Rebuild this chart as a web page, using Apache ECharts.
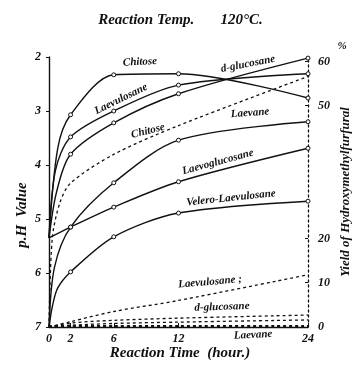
<!DOCTYPE html>
<html>
<head>
<meta charset="utf-8">
<script src="https://cdn.jsdelivr.net/npm/echarts@6/dist/echarts.min.js"></script>
<style>
  html, body { margin: 0; padding: 0; background: #fff; }
  #chart { width: 361px; height: 365px; }
</style>
</head>
<body>
<div id="chart"></div>
<script>
// tick labels
const hourTicks = [0, 2, 6, 12, 24];
const phTicks = [2, 3, 4, 5, 6, 7];
const yieldTicks = [0, 10, 20, 50, 60];
const markedHours = [2, 6, 12, 24];

// pH curves (solid)
const chitoseT = [0, 0.8, 2, 6, 12, 24];
const chitosePH = [5.35, 3.7, 3.07, 2.33, 2.31, 2.76];
const laevulosaneT = [0, 0.6, 2, 6, 12, 24];
const laevulosanePH = [5.35, 4.1, 3.48, 3.0, 2.52, 2.31];
const glucosaneT = [0, 0.7, 2, 6, 12, 24];
const glucosanePH = [5.35, 4.5, 3.8, 3.22, 2.68, 2.02];
const laevaneT = [0, 0.5, 2, 6, 12, 24];
const laevanePH = [7, 5.9, 5.15, 4.33, 3.54, 3.2];
const laevoglucosaneT = [0, 2, 6, 12, 24];
const laevoglucosanePH = [5.35, 5.15, 4.78, 4.31, 3.69];
const veleroT = [0, 0.3, 0.8, 2, 6, 12, 24];
const veleroPH = [7, 6.63, 6.28, 5.98, 5.33, 4.89, 4.67];

// yield of hydroxymethylfurfural (dotted)
const chitoseYT = [0, 0.3, 1, 2, 6, 12, 24];
const chitoseY = [0, 20, 28, 32.5, 39, 45.5, 56.6];
const yieldT = [0, 2, 6, 12, 24];
const laevulosaneY = [0, 1.2, 3.5, 6, 11.8];
const glucosaneY = [0, 0.9, 1.5, 2, 2.7];
const otherY = [0, 0.4, 0.8, 1.1, 1.6];
const laevaneY = [0.2, 0.2, 0.2, 0.2, 0.2];

const zip = (t, v) => t.map((x, i) => [x, v[i]]);
const hand = '"Liberation Serif", serif';

function phLine(name, t, v) {
    return {
        name: name, type: "line", yAxisIndex: 0,
        data: zip(t, v),
        smooth: 0.3,
        symbol: (val) => (markedHours.includes(val[0]) ? "circle" : "none"),
        symbolSize: 4,
        itemStyle: { color: "#fff", borderColor: "#111", borderWidth: 1 },
        lineStyle: { color: "#111", width: 1.4 },
        z: 3,
    };
}

function yieldLine(name, t, v, width) {
    return {
        name: name, type: "line", yAxisIndex: 1,
        data: zip(t, v),
        smooth: 0.3,
        symbol: "none",
        lineStyle: { color: "#111", width: width || 1.3, type: [3, 3] },
    };
}

const chart = echarts.init(document.getElementById("chart"));

const labels = [
    { t: "Chitose", x: 140, y: 62, r: 3 },
    { t: "Laevulosane", x: 121, y: 99, r: 26 },
    { t: "d-glucosane", x: 248, y: 64, r: 11 },
    { t: "Chitose", x: 148, y: 131, r: 14 },
    { t: "Laevane", x: 250, y: 113, r: 4 },
    { t: "Laevoglucosane", x: 218, y: 162, r: 15 },
    { t: "Velero-Laevulosane", x: 231, y: 198, r: 6 },
    { t: "Laevulosane ;", x: 210, y: 282, r: 5 },
    { t: "d-glucosane", x: 222, y: 307, r: 2 },
    { t: "Laevane", x: 253, y: 335, r: 3 },
];

chart.setOption({
    animation: false,
    backgroundColor: "#fff",
    title: {
        text: "Reaction Temp.       120\u00b0C.",
        left: "center", top: 8,
        textStyle: { fontFamily: hand, fontStyle: "italic", fontWeight: "bold", fontSize: 15, color: "#111" },
    },
    grid: { left: 49, right: 53, top: 57, bottom: 38 },
    xAxis: {
        type: "value", min: 0, max: 24,
        axisLine: { lineStyle: { color: "#111", width: 1.4 } },
        axisTick: { customValues: hourTicks, length: 4, inside: true, lineStyle: { color: "#111" } },
        axisLabel: {
            customValues: hourTicks, margin: 6,
            fontFamily: hand, fontStyle: "italic", fontWeight: "bold", fontSize: 12, color: "#111",
        },
        splitLine: { show: false },
    },
    yAxis: [
        {
            type: "value", inverse: true, min: 2, max: 7, interval: 1,
            axisLine: { show: true, lineStyle: { color: "#111", width: 1.4 } },
            axisTick: { show: true, length: 3, lineStyle: { color: "#111" } },
            axisLabel: {
                customValues: phTicks, margin: 8,
                fontFamily: hand, fontStyle: "italic", fontWeight: "bold", fontSize: 12, color: "#111",
            },
            splitLine: { show: false },
        },
        {
            type: "value", min: 0, max: 61, position: "right",
            axisLine: { show: true, lineStyle: { color: "#111", width: 1.3, type: [2, 3] } },
            axisTick: { show: true, customValues: yieldTicks, length: 3, inside: true, lineStyle: { color: "#111" } },
            axisLabel: {
                customValues: yieldTicks, margin: 10,
                fontFamily: hand, fontStyle: "italic", fontWeight: "bold", fontSize: 12, color: "#111",
            },
            splitLine: { show: false },
        },
    ],
    series: [
        phLine("Chitose", chitoseT, chitosePH),
        phLine("Laevulosane", laevulosaneT, laevulosanePH),
        phLine("d-glucosane", glucosaneT, glucosanePH),
        phLine("Laevane", laevaneT, laevanePH),
        phLine("Laevoglucosane", laevoglucosaneT, laevoglucosanePH),
        phLine("Velero-Laevulosane", veleroT, veleroPH),
        yieldLine("Chitose yield", chitoseYT, chitoseY),
        yieldLine("Laevulosane yield", yieldT, laevulosaneY),
        yieldLine("d-glucosane yield", yieldT, glucosaneY),
        yieldLine("other yield", yieldT, otherY),
        yieldLine("Laevane yield", yieldT, laevaneY, 2.2),
    ],
    graphic: labels.map((l) => ({
        type: "text", x: l.x, y: l.y, rotation: (l.r * Math.PI) / 180,
        style: {
            text: l.t, fill: "#111", align: "center", verticalAlign: "middle",
            font: 'italic bold 11px "Liberation Serif", serif',
        },
    })).concat([
        {
            type: "text", x: 22, y: 215, rotation: Math.PI / 2,
            style: { text: "p.H  Value", fill: "#111", align: "center", verticalAlign: "middle",
                font: 'italic bold 15px "Liberation Serif", serif' },
        },
        {
            type: "text", x: 346, y: 192, rotation: Math.PI / 2,
            style: { text: "Yield of Hydroxymethylfurfural", fill: "#111", align: "center", verticalAlign: "middle",
                font: 'italic bold 13px "Liberation Serif", serif' },
        },
        {
            type: "text", x: 342, y: 46,
            style: { text: "%", fill: "#111", align: "center", verticalAlign: "middle",
                font: 'italic bold 11px "Liberation Serif", serif' },
        },
        {
            type: "text", x: 180, y: 353,
            style: { text: "Reaction Time  (hour.)", fill: "#111", align: "center", verticalAlign: "middle",
                font: 'italic bold 15px "Liberation Serif", serif' },
        },
    ]),
});
</script>
</body>
</html>
